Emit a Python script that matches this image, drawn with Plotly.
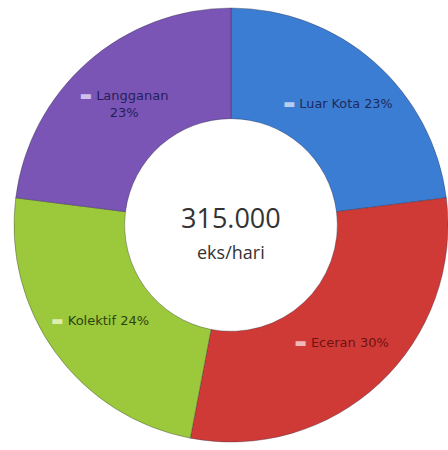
import plotly.graph_objects as go

labels = ["Luar Kota", "Eceran", "Kolektif", "Langganan"]
values = [23, 30, 24, 23]
templates = ["%{label} %{value}%", "%{label} %{value}%", "%{label} %{value}%", "%{label}<br>%{value}%"]
colors = ["#3c7dd4", "#d03a36", "#9cc83c", "#7a55b5"]
text_colors = ["#1c2a5c", "#6e1212", "#2c4410", "#251f5a"]
marker_colors = ["#b8cdf0", "#f0b8b8", "#dcefb0", "#d0c0ee"]
center_value = "315.000"
center_unit = "eks/hari"

tmpl = [f"<span style='color:{mc}'>▬</span> " + t for t, mc in zip(templates, marker_colors)]

fig = go.Figure(go.Pie(
    labels=labels,
    values=values,
    hole=0.49,
    sort=False,
    direction="clockwise",
    rotation=0,
    marker=dict(colors=colors, line=dict(color="rgba(40,40,60,0.35)", width=1)),
    texttemplate=tmpl,
    textposition="inside",
    insidetextorientation="horizontal",
    textfont=dict(family="DejaVu Sans", size=13, color=text_colors),
    showlegend=False,
    domain=dict(x=[0.03125, 1.0], y=[0.0156, 0.9844]),
    hoverinfo="label+percent",
))

fig.add_annotation(x=0.515, y=1 - 217/450, xref="paper", yref="paper",
                   text=center_value, showarrow=False,
                   font=dict(family="Open Sans", size=27, color="#333333"))
fig.add_annotation(x=0.515, y=1 - 252/450, xref="paper", yref="paper",
                   text=center_unit, showarrow=False,
                   font=dict(family="Open Sans", size=18, color="#333333"))

fig.update_layout(width=448, height=450, margin=dict(l=0, r=0, t=0, b=0),
                  paper_bgcolor="white", plot_bgcolor="white")
fig.write_html("out.html")
